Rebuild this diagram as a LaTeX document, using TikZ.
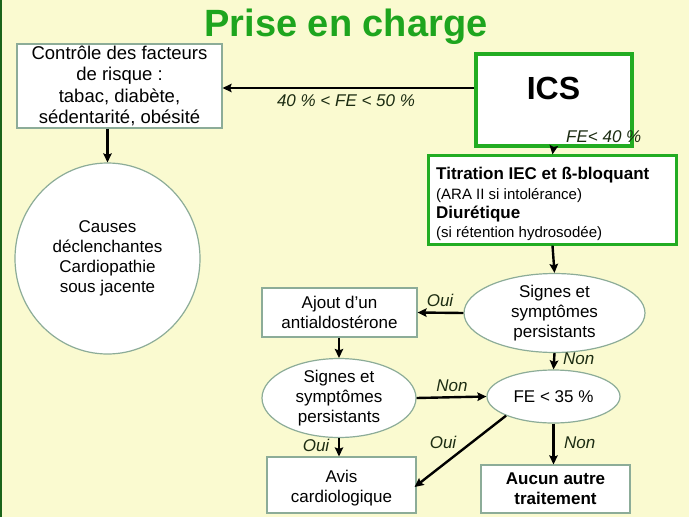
\documentclass[tikz,border=0pt]{standalone}
\usepackage{fontspec}
\setmainfont{Liberation Sans}
\usetikzlibrary{shapes.geometric,arrows.meta}
\definecolor{bg}{RGB}{250,250,208}
\definecolor{ttl}{RGB}{30,165,30}
\definecolor{gbox}{RGB}{34,172,34}
\definecolor{boxline}{RGB}{140,172,152}
\definecolor{lbl}{RGB}{28,44,18}
\definecolor{edge}{RGB}{26,100,26}
\begin{document}
\begin{tikzpicture}[x=1pt,y=-1pt,
  txt/.style={font=\fontsize{17}{20}\selectfont},
  plainbox/.style={txt,draw=boxline,line width=1.2pt,fill=white,align=center,inner sep=0pt},
  oval/.style={txt,ellipse,draw=boxline,line width=1.2pt,fill=white,align=center,inner sep=0pt},
  arr/.style={-{Stealth[length=9pt,width=8.5pt,inset=1.5pt]},line width=2.4pt,black},
  lab/.style={font=\fontsize{17}{20}\selectfont\itshape,text=lbl,inner sep=0pt}
]
\useasboundingbox (0,0) rectangle (689,517);
\fill[bg] (0,0) rectangle (689,517);
\draw[edge,line width=2pt] (1,0) -- (1,517);

\node[font=\fontsize{38}{40}\selectfont\bfseries,text=ttl] (title) at (346,27) {Prise en charge};

\node[plainbox,minimum width=205pt,minimum height=84pt,font=\fontsize{18.5}{21.5}\selectfont] (ctrl) at (119.5,86)
  {Contrôle des facteurs\\de risque :\\tabac, diabète,\\sédentarité, obésité};
\node[draw=gbox,line width=4pt,fill=white,minimum width=156pt,minimum height=92pt] (ics) at (553.5,99.5) {};
\node[font=\fontsize{32}{34}\selectfont\bfseries,inner sep=0pt] (icstxt) at (553.5,88) {ICS};
\node[draw=gbox,line width=2.2pt,fill=white,minimum width=248pt,minimum height=89pt] (tit) at (552.5,200) {};
\node[txt,anchor=west,align=left,inner sep=0pt,font=\fontsize{17}{19.2}\selectfont] (tittxt) at (436,204)
  {\textbf{Titration IEC et ß-bloquant}\\
   {\fontsize{15}{19}\selectfont (ARA II si intolérance)}\\
   \textbf{Diurétique}\\
   {\fontsize{15}{19}\selectfont (si rétention hydrosodée)}};
\node[oval,minimum width=185pt,minimum height=191pt] (causes) at (107.5,258.5)
  {Causes\\déclenchantes\\Cardiopathie\\sous jacente};
\node[oval,minimum width=181pt,minimum height=64pt] (e1) at (554.5,313)
  {Signes et\\symptômes\\persistants};
\node[plainbox,minimum width=155pt,minimum height=49pt] (ajout) at (339.5,312.5)
  {Ajout d’un\\antialdostérone};
\node[oval,minimum width=154pt,minimum height=66pt] (e2) at (339,398)
  {Signes et\\symptômes\\persistants};
\node[oval,minimum width=133pt,minimum height=53pt] (fe) at (553.5,396.5)
  {FE < 35 \%};
\node[plainbox,minimum width=149pt,minimum height=56pt] (avis) at (341.5,485)
  {\rule{0pt}{18pt}Avis\\cardiologique};
\node[plainbox,minimum width=149pt,minimum height=48pt,font=\fontsize{17}{20}\selectfont\bfseries] (aucun) at (555.5,489)
  {Aucun autre\\traitement};

\draw[arr] (ics.west |- 0,88) -- (ctrl.east |- 0,88);
\node[lab] (l1) at (346,101) {40 \% < FE < 50 \%};
\draw[arr] (ics.south) -- (tit.north);
\node[lab,anchor=west] (l2) at (566,137) {FE< 40 \%};
\draw[arr] (causes.north |- ctrl.south) -- (causes.north);
\draw[arr] (tit.south) -- (e1.north);
\draw[arr] (e1.west) -- (ajout.east);
\node[lab] (l3) at (440,300) {Oui};
\draw[arr] (ajout.south -| e2.north) -- (e2.north);
\draw[arr] (e2.east) -- (fe.west);
\node[lab] (l4) at (452,386) {Non};
\draw[arr] (e1.south) -- (fe.north);
\node[lab,anchor=west] (l5) at (563,359) {Non};
\draw[arr] (e2.south) -- (e2.south |- avis.north);
\node[lab] (l6) at (316,445) {Oui};
\draw[arr] (fe.202) -- ([yshift=-2pt,xshift=-2pt]avis.east);
\node[lab] (l7) at (443,442) {Oui};
\draw[arr] (fe.south) -- (fe.south |- aucun.north);
\node[lab,anchor=west] (l8) at (564,443) {Non};
\end{tikzpicture}
\end{document}
